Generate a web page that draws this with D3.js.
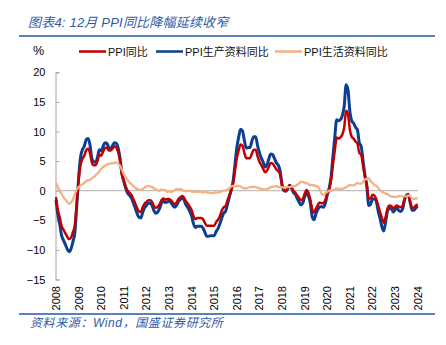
<!DOCTYPE html>
<meta charset="utf-8">
<head>
    <script src="https://d3js.org/d3.v7.min.js"></script>
    <style>
    body { margin: 0; background: white; }
    text { font-family: "Liberation Sans", Arial, "Noto Sans CJK SC", sans-serif; }
    .cap { font-family: "Liberation Sans", "Noto Sans CJK SC", sans-serif; font-style: italic; fill: #2e5ba8; }
    .tick text { font-size: 11px; fill: #000; }
    .legend { font-size: 11px; fill: #111; }
    </style>
</head>
<body>
<svg id="chart"></svg>
<script>

// x labels, one per 12 months (first point = Dec 2008)
var years = ["2008","2009","2010","2011","2012","2013","2014","2015","2016",
             "2017","2018","2019","2020","2021","2022","2023","2024"];

// PPI同比
var ppi = [-1.1,
  -3.3,-4.5,-6.0,-6.6,-7.2,-7.8,-8.2,-7.9,-7.0,-5.8,-2.1,1.7,
  4.3,5.4,5.9,6.8,7.1,6.4,4.8,4.3,4.3,5.0,6.1,5.9,
  6.6,7.2,7.3,6.8,6.8,7.1,7.5,7.3,6.5,5.0,2.7,1.7,
  0.7,0.0,-0.3,-0.7,-1.4,-2.1,-2.9,-3.5,-3.6,-2.8,-2.2,-1.9,
  -1.6,-1.6,-1.9,-2.6,-2.9,-2.7,-2.3,-1.6,-1.3,-1.5,-1.4,-1.4,
  -1.6,-2.0,-2.3,-2.0,-1.4,-1.1,-0.9,-1.2,-1.8,-2.2,-2.7,-3.3,
  -4.3,-4.8,-4.6,-4.6,-4.6,-4.8,-5.4,-5.9,-5.9,-5.9,-5.9,-5.9,
  -5.3,-4.9,-4.3,-3.4,-2.8,-2.6,-1.7,-0.8,0.1,1.2,3.3,5.5,
  6.9,7.8,7.6,6.4,5.5,5.5,5.5,6.3,6.9,6.9,5.8,4.9,
  4.3,3.7,3.1,3.4,4.1,4.7,4.6,4.1,3.6,3.3,2.7,0.9,
  0.1,0.1,0.4,0.9,0.6,0.0,-0.3,-0.8,-1.2,-1.6,-1.4,-0.5,
  0.1,-0.4,-1.5,-3.1,-3.7,-3.0,-2.4,-2.0,-2.1,-2.1,-1.5,-0.4,
  0.3,1.7,4.4,6.8,9.0,8.8,9.0,9.5,10.7,13.5,12.9,10.3,
  9.1,8.8,8.3,8.0,6.4,6.1,4.2,2.3,0.9,-1.3,-1.3,-0.7,
  -0.8,-1.4,-2.5,-3.6,-4.6,-5.4,-4.4,-3.0,-2.5,-2.6,-3.0,-2.7,
  -2.5,-2.7,-2.8,-2.5,-1.4,-0.8,-0.8,-1.8,-2.8,-2.9,-2.5,-2.3];

// PPI生产资料同比
var ppiProducer = [-1.6,
  -4.1,-5.7,-7.6,-8.4,-9.1,-9.9,-10.3,-9.8,-8.6,-7.1,-2.6,2.1,
  5.6,6.9,7.5,8.6,8.8,7.8,5.5,4.9,4.8,5.6,6.9,6.7,
  7.5,8.1,8.0,7.3,7.1,7.6,8.1,8.0,7.2,5.5,2.9,1.6,
  0.4,-0.4,-0.8,-1.2,-2.0,-2.9,-3.8,-4.5,-4.6,-3.7,-2.9,-2.5,
  -2.1,-2.1,-2.5,-3.4,-3.8,-3.6,-3.0,-2.1,-1.8,-2.0,-1.9,-1.8,
  -2.0,-2.5,-2.8,-2.5,-1.8,-1.5,-1.2,-1.6,-2.4,-2.9,-3.5,-4.3,
  -5.6,-6.2,-6.0,-6.0,-6.0,-6.3,-7.0,-7.7,-7.7,-7.6,-7.6,-7.6,
  -6.9,-6.4,-5.6,-4.6,-3.8,-3.5,-2.3,-1.1,0.1,1.6,4.4,7.3,
  9.1,10.4,10.1,8.5,7.2,7.3,7.3,8.4,9.1,9.1,7.6,6.4,
  5.5,4.8,4.0,4.4,5.4,6.2,6.1,5.4,4.7,4.3,3.3,1.0,
  0.0,-0.1,0.3,0.9,0.5,-0.3,-0.6,-1.3,-1.9,-2.4,-2.1,-1.0,
  -0.4,-0.9,-2.1,-4.4,-4.9,-3.9,-3.2,-2.7,-2.7,-2.8,-2.1,-0.7,
  0.4,2.3,5.8,9.1,12.0,11.8,12.0,12.7,14.3,17.9,17.0,13.4,
  11.8,11.4,10.7,10.3,8.1,7.5,5.0,2.6,0.8,-2.5,-2.3,-1.4,
  -1.4,-1.8,-3.4,-4.7,-6.1,-6.8,-5.2,-3.4,-3.0,-3.0,-3.6,-3.2,
  -2.9,-3.4,-3.5,-3.1,-1.6,-0.8,-0.6,-2.0,-3.3,-3.3,-2.9,-2.6];

// PPI生活资料同比
var ppiConsumer = [1.3,
  0.6,0.0,-0.6,-1.1,-1.5,-1.9,-2.2,-2.0,-1.5,-0.6,0.2,0.6,
  0.9,1.1,1.3,1.6,1.8,1.8,2.1,2.3,2.6,2.9,3.3,3.7,
  4.0,4.2,4.4,4.5,4.6,4.6,4.7,4.8,4.6,4.2,3.5,2.8,
  2.3,1.8,1.4,1.1,0.8,0.5,0.3,0.2,0.1,0.3,0.5,0.7,
  0.8,0.7,0.6,0.4,0.2,0.1,0.0,0.2,0.1,0.1,-0.2,-0.1,
  -0.2,-0.1,0.1,0.3,0.2,0.3,0.1,0.0,-0.1,0.0,-0.1,-0.1,
  -0.2,-0.2,-0.1,-0.2,-0.2,-0.3,-0.2,-0.3,-0.3,-0.4,-0.4,-0.3,
  -0.3,-0.3,-0.2,-0.1,0.0,0.0,0.2,0.4,0.7,0.8,0.7,0.8,
  0.8,0.7,0.5,0.4,0.4,0.5,0.6,0.6,0.7,0.6,0.5,0.4,
  0.3,0.2,0.2,0.3,0.4,0.6,0.7,0.7,0.8,0.6,0.6,0.6,
  0.5,0.6,0.6,0.6,0.7,0.8,0.8,1.0,1.2,1.5,1.5,1.3,
  1.3,1.1,0.9,1.0,0.9,0.8,0.7,0.1,-0.5,-0.7,-0.4,-0.2,
  0.0,0.0,0.1,0.2,0.4,0.3,0.3,0.3,0.4,0.6,0.8,1.0,
  0.9,0.9,1.1,1.3,1.2,1.2,1.5,1.9,2.0,2.1,1.6,1.3,
  1.0,0.8,0.5,0.1,-0.2,-0.3,-0.5,-0.6,-0.8,-1.0,-1.0,-1.1,
  -1.0,-0.9,-0.9,-1.0,-0.9,-1.0,-0.8,-0.9,-1.3,-1.4,-1.3,-1.3];

var yTicks = [20, 15, 10, 5, 0, -5, -10, -15];

var W = 446, H = 345;
var svg = d3.select("#chart").attr("width", W).attr("height", H);

// scales
var x = d3.scaleLinear().domain([0, ppi.length - 1]).range([56, 417.7]);
var y = d3.scaleLinear().domain([-15, 20]).range([279.5, 72.3]);

// title + rules
svg.append("text").attr("class", "cap")
    .attr("x", 28).attr("y", 27)
    .style("font-size", "13px")
    .style("letter-spacing", "0.2px")
    .text("图表4:  12月 PPI同比降幅延续收窄");
svg.append("line").attr("x1", 19).attr("x2", 435).attr("y1", 36).attr("y2", 36)
    .style("stroke", "#2457a5").style("stroke-width", "1.6px");
svg.append("line").attr("x1", 19).attr("x2", 435).attr("y1", 314).attr("y2", 314)
    .style("stroke", "#2457a5").style("stroke-width", "1.6px");
svg.append("text").attr("class", "cap")
    .attr("x", 30).attr("y", 327)
    .style("font-size", "12px")
    .style("letter-spacing", "0.6px")
    .text("资料来源：Wind，国盛证券研究所");

// "%" unit
svg.append("text").attr("x", 33).attr("y", 55)
    .style("font-size", "12.5px")
    .text("%");

// y axis, ticks point inward
var yAxis = svg.append("g")
    .attr("transform", "translate(55.5,0)")
    .call(d3.axisRight(y).tickValues(yTicks).tickSize(4).tickFormat(d3.format("d")));
yAxis.select(".domain").style("stroke", "#a6a6a6");
yAxis.selectAll(".tick line").style("stroke", "#a6a6a6");
yAxis.selectAll(".tick text").attr("x", -10).attr("text-anchor", "end");

// zero line
svg.append("line")
    .attr("x1", 56).attr("x2", 418)
    .attr("y1", y(0)).attr("y2", y(0))
    .style("stroke", "#bfbfbf").style("stroke-width", "1.2px");

// x labels, rotated
svg.append("g").selectAll("text")
    .data(years)
    .join("text")
    .attr("class", "tick")
    .attr("transform", function(d, i) { return "translate(" + (x(i * 12) + 4) + ",286) rotate(-90)"; })
    .attr("text-anchor", "end")
    .style("font-size", "11px")
    .text(function(d) { return d; });

// series
var line = d3.line()
    .x(function(d, i) { return x(i); })
    .y(function(d) { return y(d); })
    .curve(d3.curveMonotoneX);

svg.append("path").datum(ppiProducer)
    .attr("fill", "none").attr("stroke", "#0b3f92").attr("stroke-width", 3)
    .attr("d", line);
svg.append("path").datum(ppi)
    .attr("fill", "none").attr("stroke", "#c00000").attr("stroke-width", 2.5)
    .attr("d", line);
svg.append("path").datum(ppiConsumer)
    .attr("fill", "none").attr("stroke", "#f4b183").attr("stroke-width", 2.3)
    .attr("d", line);

// legend
var legend = [
    {name: "PPI同比", color: "#c00000", x: 79},
    {name: "PPI生产资料同比", color: "#0b3f92", x: 156},
    {name: "PPI生活资料同比", color: "#f4b183", x: 275}
];
var lg = svg.append("g").selectAll("g").data(legend).join("g");
lg.append("line")
    .attr("x1", function(d) { return d.x; })
    .attr("x2", function(d) { return d.x + 27; })
    .attr("y1", 51.5).attr("y2", 51.5)
    .attr("stroke", function(d) { return d.color; })
    .attr("stroke-width", 2.5);
lg.append("text").attr("class", "legend")
    .attr("x", function(d) { return d.x + 29; })
    .attr("y", 55.5)
    .text(function(d) { return d.name; });

</script>
</body>
